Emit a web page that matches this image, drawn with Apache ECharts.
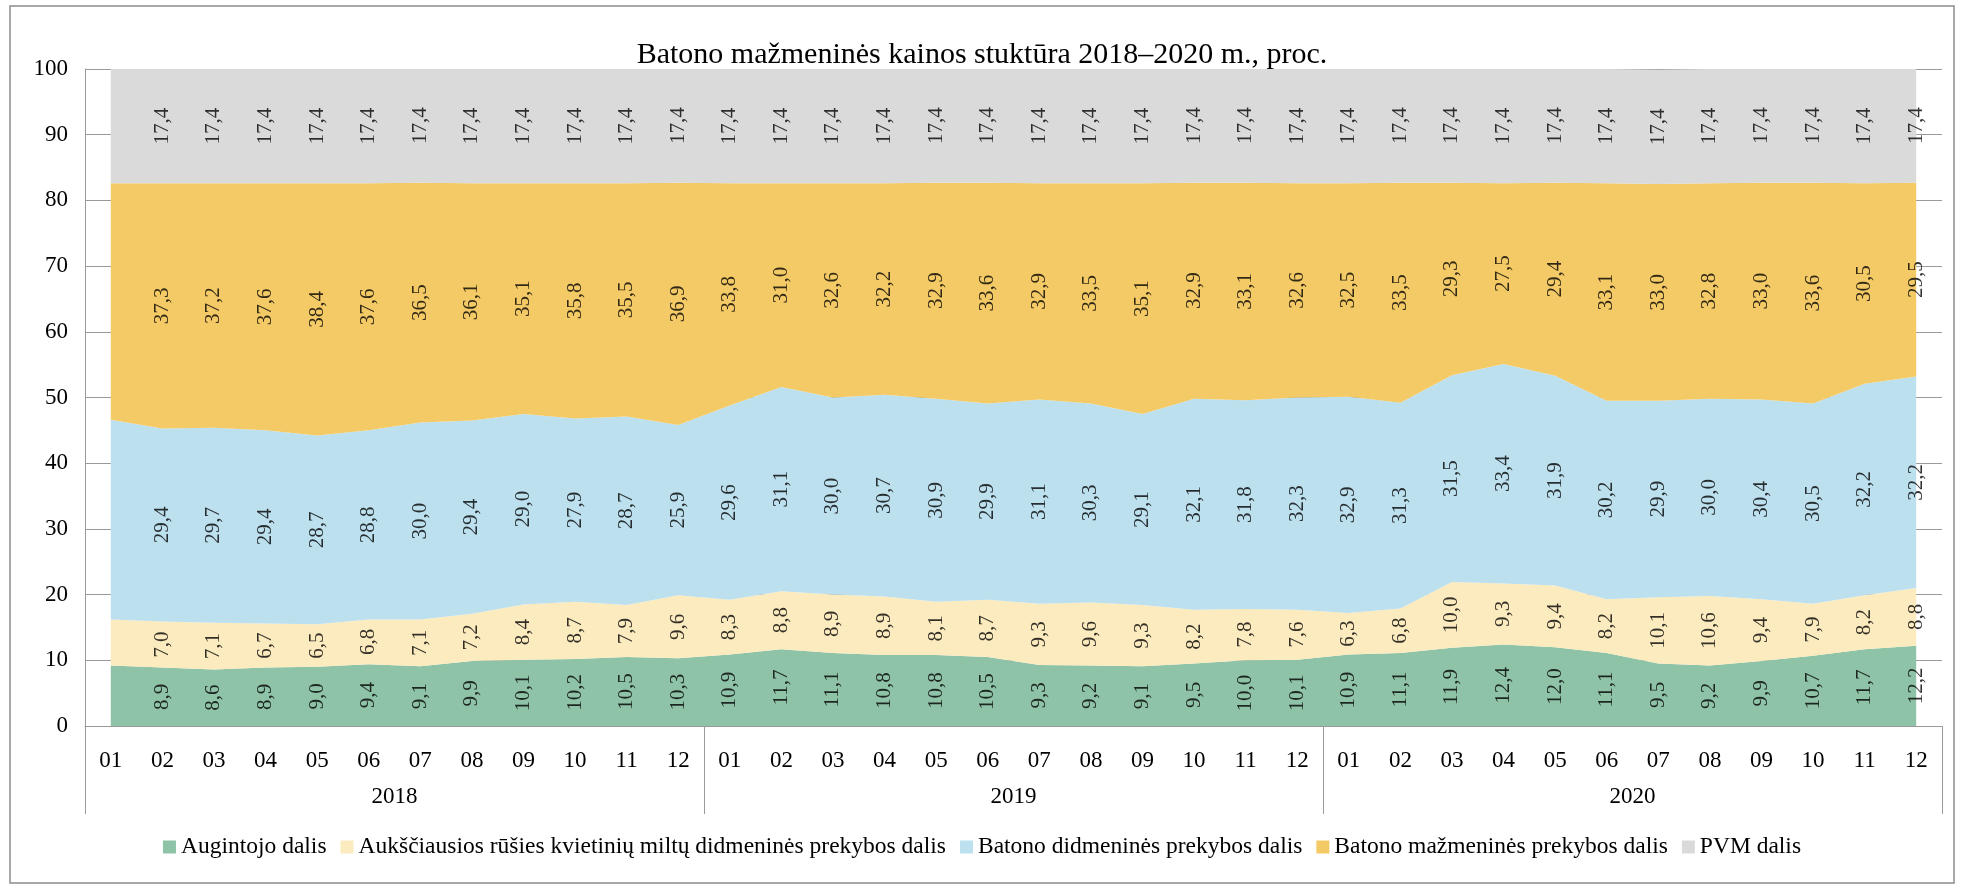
<!DOCTYPE html>
<html>
<head>
<meta charset="utf-8">
<title>Batono kainos struktūra</title>
<script src="https://cdn.jsdelivr.net/npm/echarts@6/dist/echarts.min.js"></script>
<style>
  html, body { margin: 0; padding: 0; background: #fff; }
  #chart { width: 1964px; height: 888px; }
</style>
</head>
<body>
<div id="chart"></div>
<script>
/* mėnesiai ir metai */
const months = ['01','02','03','04','05','06','07','08','09','10','11','12',
                '01','02','03','04','05','06','07','08','09','10','11','12',
                '01','02','03','04','05','06','07','08','09','10','11','12']
const years = ['2018', '2019', '2020']

/* dalys, proc. (2018-01 neturi etikečių, reikšmės įvertintos iš ploto) */
const augintojo = [9.2, 8.9, 8.6, 8.9, 9.0, 9.4, 9.1, 9.9, 10.1, 10.2, 10.5, 10.3,
                   10.9, 11.7, 11.1, 10.8, 10.8, 10.5, 9.3, 9.2, 9.1, 9.5, 10.0, 10.1,
                   10.9, 11.1, 11.9, 12.4, 12.0, 11.1, 9.5, 9.2, 9.9, 10.7, 11.7, 12.2]
const miltu = [7.0, 7.0, 7.1, 6.7, 6.5, 6.8, 7.1, 7.2, 8.4, 8.7, 7.9, 9.6,
               8.3, 8.8, 8.9, 8.9, 8.1, 8.7, 9.3, 9.6, 9.3, 8.2, 7.8, 7.6,
               6.3, 6.8, 10.0, 9.3, 9.4, 8.2, 10.1, 10.6, 9.4, 7.9, 8.2, 8.8]
const didmenine = [30.4, 29.4, 29.7, 29.4, 28.7, 28.8, 30.0, 29.4, 29.0, 27.9, 28.7, 25.9,
                   29.6, 31.1, 30.0, 30.7, 30.9, 29.9, 31.1, 30.3, 29.1, 32.1, 31.8, 32.3,
                   32.9, 31.3, 31.5, 33.4, 31.9, 30.2, 29.9, 30.0, 30.4, 30.5, 32.2, 32.2]
const mazmenine = [36.0, 37.3, 37.2, 37.6, 38.4, 37.6, 36.5, 36.1, 35.1, 35.8, 35.5, 36.9,
                   33.8, 31.0, 32.6, 32.2, 32.9, 33.6, 32.9, 33.5, 35.1, 32.9, 33.1, 32.6,
                   32.5, 33.5, 29.3, 27.5, 29.4, 33.1, 33.0, 32.8, 33.0, 33.6, 30.5, 29.5]
const pvm = [17.4, 17.4, 17.4, 17.4, 17.4, 17.4, 17.4, 17.4, 17.4, 17.4, 17.4, 17.4,
             17.4, 17.4, 17.4, 17.4, 17.4, 17.4, 17.4, 17.4, 17.4, 17.4, 17.4, 17.4,
             17.4, 17.4, 17.4, 17.4, 17.4, 17.4, 17.4, 17.4, 17.4, 17.4, 17.4, 17.4]

const names = ['Augintojo dalis',
               'Aukščiausios rūšies kvietinių miltų didmeninės prekybos dalis',
               'Batono didmeninės prekybos dalis',
               'Batono mažmeninės prekybos dalis',
               'PVM dalis']
const colors = ['#8fc3a7', '#fcebbe', '#bde0ef', '#f4ca66', '#dadada']
const parts = [augintojo, miltu, didmenine, mazmenine, pvm]

const font = 'Liberation Serif'
const gray = '#9a9a9a'

/* sluoksniai */
let series = []
parts.forEach((vals, k) => {
  series.push({
    name: names[k],
    type: 'line',
    stack: 'total',
    symbol: 'none',
    lineStyle: { width: 0 },
    areaStyle: { color: colors[k], opacity: 1 },
    itemStyle: { color: colors[k] },
    data: vals
  })
})

/* etiketės juostų viduryje */
let base = augintojo.map(() => 0)
parts.forEach((vals, k) => {
  let mids = vals.map((v, i) => i === 0 ? '-' : base[i] + v / 2)
  base = base.map((b, i) => b + vals[i])
  series.push({
    name: 'lbl' + k,
    type: 'scatter',
    symbolSize: 1,
    silent: true,
    itemStyle: { color: 'rgba(0,0,0,0)' },
    z: 5,
    label: {
      show: true,
      position: 'inside',
      rotate: 90,
      fontFamily: font,
      fontSize: 21,
      color: '#000',
      formatter: p => vals[p.dataIndex].toFixed(1).replace('.', ',')
    },
    data: mids
  })
})

const chart = echarts.init(document.getElementById('chart'))
chart.setOption({
  animation: false,
  textStyle: { fontFamily: font, color: '#000' },
  title: {
    text: 'Batono mažmeninės kainos stuktūra 2018–2020 m., proc.',
    left: 'center',
    top: 35,
    textStyle: { fontFamily: font, fontSize: 30, fontWeight: 'normal', color: '#000' }
  },
  legend: {
    data: names,
    top: 830,
    left: 'center',
    icon: 'rect',
    itemWidth: 13,
    itemHeight: 13,
    itemGap: 14,
    textStyle: { fontFamily: font, fontSize: 23.5, color: '#000' }
  },
  graphic: [{
    type: 'rect',
    shape: { x: 10, y: 6, width: 1944, height: 877 },
    style: { fill: 'none', stroke: '#8c8c8c', lineWidth: 1.5 },
    silent: true
  }],
  grid: { left: 85, right: 22, top: 69, bottom: 162 },
  xAxis: [
    {
      type: 'category',
      data: months,
      boundaryGap: true,
      axisLine: { lineStyle: { color: gray } },
      axisTick: { show: false },
      axisLabel: { interval: 0, margin: 23, fontFamily: font, fontSize: 23, color: '#000' }
    },
    {
      type: 'category',
      data: years,
      position: 'bottom',
      boundaryGap: true,
      axisLine: { show: false },
      axisTick: { show: true, interval: 0, length: 88, lineStyle: { color: gray } },
      axisLabel: { interval: 0, margin: 59, fontFamily: font, fontSize: 23, color: '#000' },
      splitLine: { show: false }
    }
  ],
  yAxis: {
    type: 'value',
    min: 0,
    max: 100,
    interval: 10,
    axisLine: { show: true, lineStyle: { color: gray } },
    axisTick: { show: false },
    axisLabel: { margin: 17, fontFamily: font, fontSize: 23, color: '#000' },
    splitLine: { lineStyle: { color: gray } }
  },
  series: series
})
</script>
</body>
</html>
